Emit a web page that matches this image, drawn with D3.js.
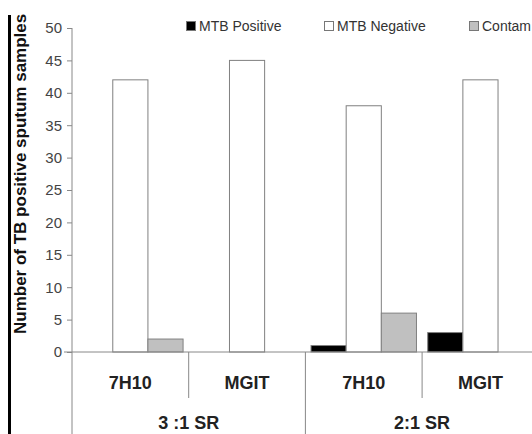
<!DOCTYPE html>
<html>
<head>
<meta charset="utf-8">
<script src="https://cdn.jsdelivr.net/npm/d3@7"></script>
<style>
  body { margin: 0; background: #fff; }
  svg { display: block; font-family: Arial, "Liberation Sans", sans-serif; }
</style>
</head>
<body>
<svg id="chart"></svg>
<script>
// data
const groups = ["3 :1 SR", "2:1 SR"];
const categories = ["7H10", "MGIT", "7H10", "MGIT"];
const series = ["MTB Positive", "MTB Negative", "Contam"];
const mtbPositive = [0, 0, 1, 3];
const mtbNegative = [42, 45, 38, 42];
const contam = [2, 0, 6, 0];
const yTicks = [0, 5, 10, 15, 20, 25, 30, 35, 40, 45, 50];

const colors = ["#000000", "#ffffff", "#c0c0c0"];
const values = [mtbPositive, mtbNegative, contam];

const width = 532, height = 434;
const plotLeft = 72, plotTop = 28, plotBase = 352;
const catW = 116.7;

const svg = d3.select("#chart")
    .attr("width", width)
    .attr("height", height);

const y = d3.scaleLinear().domain([0, 50]).range([plotBase, plotTop]);

const xCat = d3.scaleBand()
    .domain(d3.range(categories.length))
    .range([plotLeft, plotLeft + catW * categories.length])
    .padding(0);

const xBar = d3.scaleBand()
    .domain(series)
    .range([0, xCat.bandwidth()])
    .paddingInner(0)
    .paddingOuter(0.16);

// left black stripe
svg.append("rect")
    .attr("x", 8).attr("y", 15)
    .attr("width", 3).attr("height", height - 15)
    .attr("fill", "#000");

// y axis title
svg.append("text")
    .attr("transform", "translate(26, 334) rotate(-90)")
    .attr("text-anchor", "start")
    .attr("font-size", "17px")
    .attr("font-weight", "bold")
    .attr("fill", "#111")
    .text("Number of TB positive sputum samples");

// y axis
const yAxis = svg.append("g")
    .attr("transform", `translate(${plotLeft},0)`)
    .call(d3.axisLeft(y).tickValues(yTicks).tickSize(5).tickSizeOuter(0).tickPadding(5));
yAxis.select(".domain").remove();
yAxis.selectAll(".tick line").attr("stroke", "#888");
yAxis.selectAll(".tick text")
    .attr("font-size", "15px")
    .attr("font-family", "Arial, 'Liberation Sans', sans-serif")
    .attr("fill", "#444");

svg.append("line")
    .attr("x1", plotLeft).attr("x2", plotLeft)
    .attr("y1", plotTop).attr("y2", height)
    .attr("stroke", "#888");

// bars
const data = [];
categories.forEach((c, i) => {
    series.forEach((s, j) => {
        data.push({ cat: i, series: s, value: values[j][i], color: colors[j] });
    });
});

svg.append("g").selectAll("rect")
    .data(data.filter(d => d.value > 0))
    .join("rect")
    .attr("x", d => xCat(d.cat) + xBar(d.series))
    .attr("y", d => y(d.value))
    .attr("width", xBar.bandwidth())
    .attr("height", d => y(0) - y(d.value))
    .attr("fill", d => d.color)
    .attr("stroke", "#808080")
    .attr("stroke-width", 1);

// baseline
svg.append("line")
    .attr("x1", plotLeft - 8).attr("x2", width)
    .attr("y1", y(0)).attr("y2", y(0))
    .attr("stroke", "#888");

// category dividers
categories.forEach((c, i) => {
    if (i === 0) return;
    const x = xCat(i);
    svg.append("line")
        .attr("x1", x).attr("x2", x)
        .attr("y1", y(0))
        .attr("y2", i % 2 === 0 ? height : 398)
        .attr("stroke", "#888");
});

// category labels
svg.append("g").selectAll("text")
    .data(categories)
    .join("text")
    .attr("x", (d, i) => xCat(i) + xCat.bandwidth() / 2)
    .attr("y", 389)
    .attr("text-anchor", "middle")
    .attr("font-size", "18px")
    .attr("font-weight", "bold")
    .attr("fill", "#222")
    .text(d => d);

// group labels
svg.append("g").selectAll("text")
    .data(groups)
    .join("text")
    .attr("x", (d, i) => xCat(i * 2) + xCat.bandwidth())
    .attr("y", 429)
    .attr("text-anchor", "middle")
    .attr("font-size", "18px")
    .attr("font-weight", "bold")
    .attr("fill", "#222")
    .text(d => d);

// legend
const legendX = [186, 324, 469];
const legend = svg.append("g").selectAll("g")
    .data(series)
    .join("g")
    .attr("transform", (d, i) => `translate(${legendX[i]}, 21)`);
legend.append("rect")
    .attr("x", 0.5).attr("y", 0.5)
    .attr("width", 9).attr("height", 9)
    .attr("fill", (d, i) => colors[i])
    .attr("stroke", "#777");
legend.append("text")
    .attr("x", 13).attr("y", 9.5)
    .attr("font-size", "14px")
    .attr("fill", "#333")
    .text(d => d);
</script>
</body>
</html>
